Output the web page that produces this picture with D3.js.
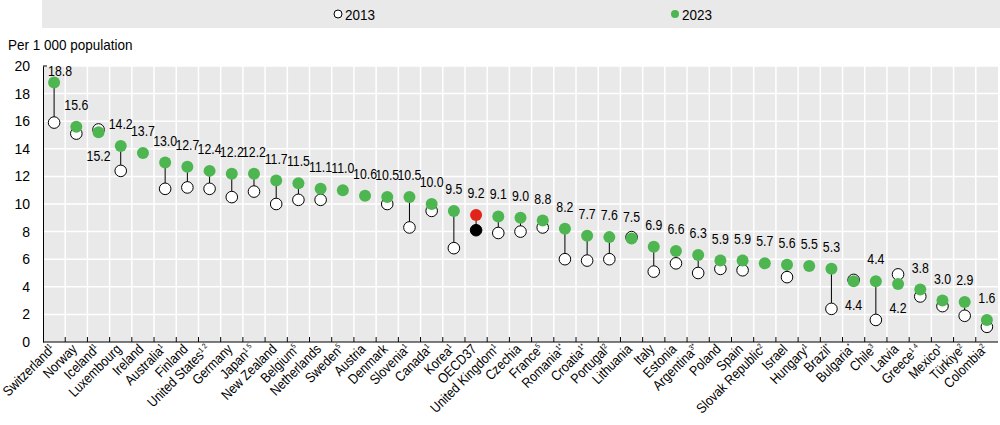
<!DOCTYPE html>
<html>
<head>
<meta charset="utf-8">
<script src="https://cdn.jsdelivr.net/npm/d3@7"></script>
<style>
  body { margin:0; background:#fff; }
  svg text { font-family:"Liberation Sans Narrow","Arial Narrow","Liberation Sans",Arial,sans-serif; fill:#000; }
</style>
</head>
<body>
<svg id="chart" width="1000" height="425"></svg>
<script>
// ─── Data ─────────────────────────────────────
const countries = ['Switzerland','Norway','Iceland','Luxembourg','Ireland','Australia','Finland',
  'United States','Germany','Japan','New Zealand','Belgium','Netherlands','Sweden','Austria',
  'Denmark','Slovenia','Canada','Korea','OECD37','United Kingdom','Czechia','France','Romania',
  'Croatia','Portugal','Lithuania','Italy','Estonia','Argentina','Poland','Spain','Slovak Republic',
  'Israel','Hungary','Brazil','Bulgaria','Chile','Latvia','Greece','Mexico','Türkiye','Colombia'];

const notes = ['1','','1','','','1','','1 2','','1 5','','5','','5','',
  '','1','1','1','','1','','5','1*',
  '1*','2','','','','3*','','','2',
  '','1','*','*','3','','1 4','1','2','2'];

const v2023 = [18.8,15.6,15.2,14.2,13.7,13.0,12.7,12.4,12.2,12.2,11.7,11.5,11.1,11.0,10.6,
  10.5,10.5,10.0,9.5,9.2,9.1,9.0,8.8,8.2,7.7,7.6,7.5,6.9,6.6,6.3,5.9,5.9,5.7,
  5.6,5.5,5.3,4.4,4.4,4.2,3.8,3.0,2.9,1.6];

const v2013 = [15.9,15.1,15.4,12.4,null,11.1,11.2,11.1,10.5,10.9,10.0,10.3,10.3,null,null,
  10.0,8.3,9.5,6.8,8.1,7.9,8.0,8.3,6.0,5.9,6.0,7.6,5.1,5.7,5.0,5.3,5.2,null,
  4.7,null,2.4,4.5,1.6,4.9,3.3,2.6,1.9,1.1];

const yTicks = [0,2,4,6,8,10,12,14,16,18,20];
const labelBelow = ['Iceland','Bulgaria','Latvia'];

const GREEN = '#4db650', RED = '#e2231a';
const NARROW = 0.85;   // no condensed face installed, squeeze horizontally

// ─── Layout ───────────────────────────────────
const svg = d3.select('#chart');
const pL = 43, pR = 998, pT = 66, pB = 342;

const x = d3.scaleBand().domain(countries).range([pL, pR]);
const y = d3.scaleLinear().domain([0, 20]).range([pB, pT]);

// legend box
svg.append('rect').attr('x', 42).attr('y', 0).attr('width', 958).attr('height', 28).attr('fill', '#e9e9e9');
const legend = [{ t:'2013', cx:338, fill:'#fff', stroke:'#000' }, { t:'2023', cx:675, fill:GREEN, stroke:'none' }];
legend.forEach(d => {
  svg.append('circle').attr('cx', d.cx).attr('cy', 14).attr('r', 4)
    .attr('fill', d.fill).attr('stroke', d.stroke).attr('stroke-width', 1);
  svg.append('text').attr('transform', `translate(${d.cx + 7},19.5) scale(0.9,1)`)
    .attr('font-size', 15).text(d.t);
});

svg.append('text').attr('transform', 'translate(8,50) scale(0.9,1)')
  .attr('font-size', 15).text('Per 1 000 population');

// plot background + grid
svg.append('rect').attr('x', pL).attr('y', pT).attr('width', pR - pL).attr('height', pB - pT).attr('fill', '#e9e9e9');

const bounds = countries.slice(1).map(c => x(c));
svg.append('g').selectAll('line').data(yTicks.slice(1)).join('line')
  .attr('x1', pL).attr('x2', pR).attr('y1', d => y(d)).attr('y2', d => y(d))
  .attr('stroke', '#fff').attr('stroke-width', 1.5);
svg.append('g').selectAll('line').data(bounds).join('line')
  .attr('x1', d => d).attr('x2', d => d).attr('y1', pT).attr('y2', pB)
  .attr('stroke', '#fff').attr('stroke-width', 1.5);

// y axis
const yAxis = svg.append('g').attr('transform', `translate(${pL},0)`)
  .call(d3.axisLeft(y).tickValues(yTicks).tickSize(0).tickPadding(13));
yAxis.select('.domain').attr('stroke', '#000');
yAxis.selectAll('text').attr('font-size', 14).attr('font-family', null);
svg.append('line').attr('x1', pL).attr('x2', pL + 4).attr('y1', pT).attr('y2', pT).attr('stroke', '#000');

// x axis: ticks between bands, pointing up
svg.append('line').attr('x1', pL).attr('x2', pR).attr('y1', pB).attr('y2', pB).attr('stroke', '#000');
svg.append('g').selectAll('line').data(bounds).join('line')
  .attr('x1', d => d).attr('x2', d => d).attr('y1', pB - 5).attr('y2', pB)
  .attr('stroke', '#000');

const xl = svg.append('g').selectAll('text').data(countries).join('text')
  .attr('transform', d => `translate(${x(d) + x.bandwidth() / 2 + 1.5},350) rotate(-45) scale(0.87,1)`)
  .attr('text-anchor', 'end').attr('font-size', 14);
xl.append('tspan').text(d => d);
xl.append('tspan').attr('font-size', 7.5).attr('dy', -5).text((d, i) => notes[i] ? notes[i] : '');

// ─── Marks ────────────────────────────────────
const rows = countries.map((c, i) => ({ c, a: v2013[i], b: v2023[i] }));
const cx = d => x(d.c) + x.bandwidth() / 2;

svg.append('g').selectAll('line').data(rows.filter(d => d.a != null)).join('line')
  .attr('x1', cx).attr('x2', cx).attr('y1', d => y(d.a)).attr('y2', d => y(d.b))
  .attr('stroke', '#000').attr('stroke-width', 1);

svg.append('g').selectAll('circle').data(rows.filter(d => d.a != null)).join('circle')
  .attr('cx', cx).attr('cy', d => y(d.a)).attr('r', 5.8)
  .attr('fill', d => d.c === 'OECD37' ? '#000' : '#fff')
  .attr('stroke', '#000').attr('stroke-width', 1);

svg.append('g').selectAll('circle').data(rows).join('circle')
  .attr('cx', cx).attr('cy', d => y(d.b)).attr('r', 6)
  .attr('fill', d => d.c === 'OECD37' ? RED : GREEN);

// value labels
svg.append('g').selectAll('text').data(rows).join('text')
  .attr('font-size', 14.5)
  .each(function(d) {
    const t = d3.select(this);
    const below = labelBelow.includes(d.c);
    const ty = below ? y(d.b) + 29 : y(d.b) - 17;
    if (!below && ty < pT + 10) {
      t.attr('transform', `translate(${cx(d) - 6},${pT + 10}) scale(${NARROW},1)`).attr('text-anchor', 'start');
    } else {
      t.attr('transform', `translate(${cx(d)},${ty}) scale(${NARROW},1)`).attr('text-anchor', 'middle');
    }
  })
  .text(d => d.b.toFixed(1));
</script>
</body>
</html>
